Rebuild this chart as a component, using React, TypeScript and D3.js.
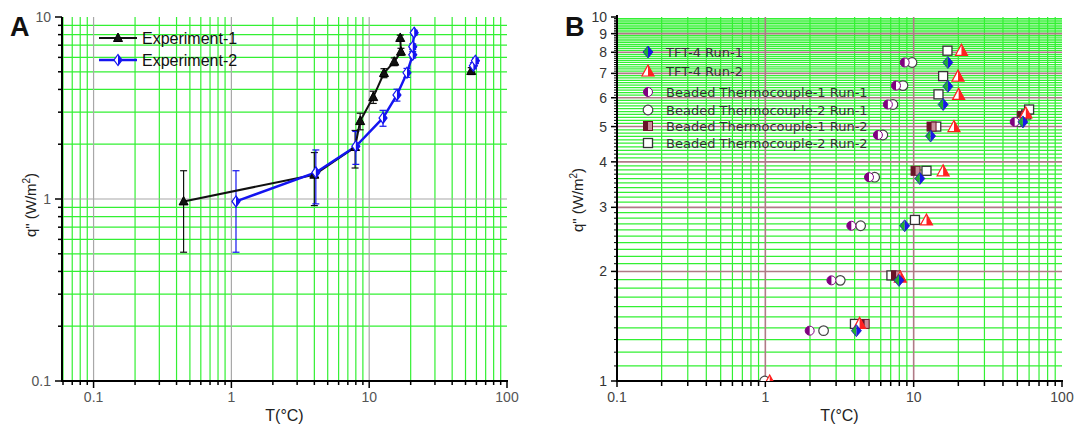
import React from "react";
import * as d3 from "d3";

// ---------- Panel A data ----------
const exp1T = [0.45, 4.0, 7.9, 8.6, 10.7, 12.8, 15.2, 17.0, 16.8];
const exp1Q = [0.97, 1.36, 1.93, 2.68, 3.63, 4.92, 5.68, 6.45, 7.67];
const exp1Err = [0.46, 0.44, 0.45, 0.28, 0.28, 0.28, 0.28, 0.28, 0.28];
const exp1FarT = [55.0];
const exp1FarQ = [5.05];
const exp1FarErr = [0.22];

const exp2T = [1.08, 4.1, 8.0, 12.6, 15.9, 18.8, 20.7, 20.7, 21.2];
const exp2Q = [0.97, 1.4, 1.95, 2.79, 3.73, 4.94, 6.2, 6.87, 8.2];
const exp2Err = [0.46, 0.46, 0.4, 0.28, 0.28, 0.28, 0.25, 0.25, 0.25];
const exp2FarT = [57.0, 59.0];
const exp2FarQ = [5.4, 5.75];
const exp2FarErr = [0.2, 0.2];

const ticksA_X = [0.1, 1, 10, 100];
const ticksA_Y = [0.1, 1, 10];
const labelsA_X = ["0.1", "1", "10", "100"];
const labelsA_Y = ["0.1", "1", "10"];

// ---------- Panel B data ----------
const tft1T = [4.11, 7.96, 8.7, 11.0, 13.0, 15.8, 17.0, 17.0, 54.5];
const tft1Q = [1.375, 1.89, 2.67, 3.6, 4.71, 5.75, 6.45, 7.5, 5.15];
const tft2T = [1.07, 4.32, 8.13, 12.2, 15.8, 18.7, 20.1, 19.9, 21.0, 57.0];
const tft2Q = [1.0, 1.44, 1.93, 2.77, 3.78, 5.0, 6.13, 6.88, 8.1, 5.45];
const bt1r1T = [1.99, 2.79, 3.8, 5.0, 5.74, 6.7, 7.6, 8.7, 48.0];
const bt1r1Q = [1.375, 1.89, 2.67, 3.63, 4.74, 5.75, 6.48, 7.5, 5.15];
const bt2r1T = [0.99, 2.47, 3.2, 4.39, 5.46, 6.2, 7.25, 8.47, 9.75, 51.5];
const bt2r1Q = [1.0, 1.375, 1.89, 2.67, 3.63, 4.74, 5.75, 6.48, 7.5, 5.15];
const bt1r2T = [4.67, 7.6, 10.3, 13.2, 53.5];
const bt1r2Q = [1.435, 1.95, 3.78, 5.0, 5.35];
const bt2r2T = [4.02, 7.08, 10.2, 12.2, 14.2, 14.7, 15.8, 16.9, 57.4, 60.0];
const bt2r2Q = [1.435, 1.95, 2.77, 3.78, 5.0, 6.13, 6.88, 8.08, 5.4, 5.57];

const legendB = [
  "TFT-4 Run-1",
  "TFT-4 Run-2",
  "Beaded Thermocouple-1 Run-1",
  "Beaded Thermocouple-2 Run-1",
  "Beaded Thermocouple-1 Run-2",
  "Beaded Thermocouple-2 Run-2",
];
const ticksB_X = [0.1, 1, 10, 100];
const labelsB_X = ["0.1", "1", "10", "100"];
const ticksB_Y = [1, 2, 3, 4, 5, 6, 7, 8, 9, 10];

const GREEN = "#33f033";
const GREY = "#a8a8a8";
const MAUVE = "#b07a86";
const FONT = "'Liberation Sans', Arial, sans-serif";

function minorLog(lo: number, hi: number): number[] {
  const out: number[] = [];
  for (let e = -3; e <= 3; e++) {
    for (let m = 1; m <= 9; m++) {
      const v = m * Math.pow(10, e);
      if (v >= lo * 0.9999 && v <= hi * 1.0001) out.push(+v.toPrecision(6));
    }
  }
  return out;
}

type MarkerKind = "tri" | "diamondHalf" | "diamondGB" | "triRed" | "circPurple" | "circOpen" | "sqDark" | "sqOpen";

function Marker({ kind, x, y }: { kind: MarkerKind; x: number; y: number }) {
  const t = `translate(${x},${y})`;
  if (kind === "tri") {
    return <path transform={t} d="M0,-5 L4.5,3.5 L-4.5,3.5 Z" fill="#111" stroke="#000" strokeWidth={1} />;
  }
  if (kind === "diamondHalf") {
    return (
      <g transform={t}>
        <path d="M0,-5.5 L4,0 L0,5.5 L-4,0 Z" fill="#fff" stroke="#1414f0" strokeWidth={1.2} />
        <path d="M0,-5.5 L4,0 L0,5.5 Z" fill="#1414f0" />
      </g>
    );
  }
  if (kind === "diamondGB") {
    return (
      <g transform={t}>
        <path d="M0,-6 L0,6 L-5,0 Z" fill="#20b030" />
        <path d="M0,-6 L5,0 L0,6 Z" fill="#1818e8" />
        <path d="M0,-6 L5,0 L0,6 L-5,0 Z" fill="none" stroke="#1818c0" strokeWidth={0.8} />
      </g>
    );
  }
  if (kind === "triRed") {
    return (
      <g transform={t}>
        <path d="M0,-6 L6,5 L-6,5 Z" fill="#fff" stroke="#ff2020" strokeWidth={1.2} />
        <path d="M0,-6 L6,5 L0,5 Z" fill="#ff2020" />
      </g>
    );
  }
  if (kind === "circPurple") {
    return (
      <g transform={t}>
        <circle r={4.5} fill="#fff" stroke="#800080" strokeWidth={1} />
        <path d="M0,-4.5 A4.5,4.5 0 0 0 0,4.5 Z" fill="#800080" />
      </g>
    );
  }
  if (kind === "circOpen") {
    return <circle transform={t} r={4.8} fill="#fff" stroke="#444" strokeWidth={1.2} />;
  }
  if (kind === "sqDark") {
    return (
      <g transform={t}>
        <rect x={-4.5} y={-4.5} width={9} height={9} fill="#c8909c" stroke="#6a1428" strokeWidth={1} />
        <rect x={-4.5} y={-4.5} width={4.5} height={9} fill="#6a1428" />
      </g>
    );
  }
  return <rect transform={t} x={-4.5} y={-4.5} width={9} height={9} fill="#fff" stroke="#333" strokeWidth={1.3} />;
}

function PanelA() {
  const L = 62, R = 507, T = 17, B = 381;
  const x = d3.scaleLog().domain([0.059, 100]).range([L, R]);
  const y = d3.scaleLog().domain([0.1, 10]).range([B, T]);
  const xMinor = minorLog(0.059, 100).filter((v) => !ticksA_X.includes(v));
  const yMinor = minorLog(0.1, 10).filter((v) => !ticksA_Y.includes(v));
  const line = d3.line<[number, number]>().x((d) => x(d[0])).y((d) => y(d[1]));
  const s1 = exp1T.map((t, i) => [t, exp1Q[i]] as [number, number]);
  const s2 = exp2T.map((t, i) => [t, exp2Q[i]] as [number, number]);
  const errBar = (t: number, q: number, e: number, col: string, key: string) => (
    <g key={key} stroke={col} strokeWidth={1.2}>
      <line x1={x(t)} x2={x(t)} y1={y(q + e)} y2={y(Math.max(q - e, 0.11))} />
      <line x1={x(t) - 3.5} x2={x(t) + 3.5} y1={y(q + e)} y2={y(q + e)} />
      <line x1={x(t) - 3.5} x2={x(t) + 3.5} y1={y(Math.max(q - e, 0.11))} y2={y(Math.max(q - e, 0.11))} />
    </g>
  );
  return (
    <g>
      {xMinor.map((v) => (
        <line key={"gx" + v} x1={x(v)} x2={x(v)} y1={T} y2={B} stroke={GREEN} strokeWidth={1.2} />
      ))}
      {yMinor.map((v) => (
        <line key={"gy" + v} x1={L} x2={R} y1={y(v)} y2={y(v)} stroke={GREEN} strokeWidth={1.2} />
      ))}
      {[0.1, 1, 10].map((v) => (
        <line key={"Gx" + v} x1={x(v)} x2={x(v)} y1={T} y2={B} stroke={GREY} strokeWidth={1.2} />
      ))}
      <line x1={L} x2={R} y1={y(1)} y2={y(1)} stroke={GREY} strokeWidth={1.2} />

      {/* axes */}
      <line x1={L} x2={R + 1} y1={B} y2={B} stroke="#000" strokeWidth={2} />
      <line x1={L} x2={L} y1={T} y2={B + 1} stroke="#000" strokeWidth={2} />
      {xMinor.map((v) => (
        <line key={"tx" + v} x1={x(v)} x2={x(v)} y1={B} y2={B + 4} stroke="#000" strokeWidth={1.5} />
      ))}
      {ticksA_X.map((v) => (
        <line key={"Tx" + v} x1={x(v)} x2={x(v)} y1={B} y2={B + 7} stroke="#000" strokeWidth={1.5} />
      ))}
      {yMinor.map((v) => (
        <line key={"ty" + v} x1={L - 4} x2={L} y1={y(v)} y2={y(v)} stroke="#000" strokeWidth={1.5} />
      ))}
      {ticksA_Y.map((v) => (
        <line key={"Ty" + v} x1={L - 7} x2={L} y1={y(v)} y2={y(v)} stroke="#000" strokeWidth={1.5} />
      ))}
      {ticksA_X.map((v, i) => (
        <text key={"lx" + v} x={x(v)} y={402} textAnchor="middle" fontSize={14} fill="#555" fontFamily={FONT}>
          {labelsA_X[i]}
        </text>
      ))}
      {ticksA_Y.map((v, i) => (
        <text key={"ly" + v} x={51} y={y(v) + 5} textAnchor="end" fontSize={14} fill="#555" fontFamily={FONT}>
          {labelsA_Y[i]}
        </text>
      ))}
      <text x={(L + R) / 2} y={421} textAnchor="middle" fontSize={16} fill="#222" fontFamily={FONT}>
        T(°C)
      </text>
      <text transform={`translate(36,${205}) rotate(-90)`} textAnchor="middle" fontSize={15} fill="#222" fontFamily={FONT}>
        q" (W/m<tspan dy={-6} fontSize={10}>2</tspan><tspan dy={6}>)</tspan>
      </text>
      <text x={10} y={36} fontSize={27} fontWeight="bold" fill="#111" fontFamily={FONT}>A</text>

      {/* error bars */}
      {exp1T.map((t, i) => errBar(t, exp1Q[i], exp1Err[i], "#111", "e1" + i))}
      {exp1FarT.map((t, i) => errBar(t, exp1FarQ[i], exp1FarErr[i], "#111", "e1f" + i))}
      {exp2T.map((t, i) => errBar(t, exp2Q[i], exp2Err[i], "#1414f0", "e2" + i))}
      {exp2FarT.map((t, i) => errBar(t, exp2FarQ[i], exp2FarErr[i], "#1414f0", "e2f" + i))}

      <path d={line(s1) || ""} fill="none" stroke="#111" strokeWidth={2} />
      <path d={line(s2) || ""} fill="none" stroke="#1414f0" strokeWidth={2.4} />
      {s1.map((d, i) => <Marker key={"m1" + i} kind="tri" x={x(d[0])} y={y(d[1])} />)}
      {exp1FarT.map((t, i) => <Marker key={"m1f" + i} kind="tri" x={x(t)} y={y(exp1FarQ[i])} />)}
      {s2.map((d, i) => <Marker key={"m2" + i} kind="diamondHalf" x={x(d[0])} y={y(d[1])} />)}
      {exp2FarT.map((t, i) => <Marker key={"m2f" + i} kind="diamondHalf" x={x(t)} y={y(exp2FarQ[i])} />)}

      {/* legend */}
      <line x1={99} x2={137} y1={38} y2={38} stroke="#111" strokeWidth={2} />
      <Marker kind="tri" x={118} y={38} />
      <text x={142} y={44} fontSize={16} fill="#111" fontFamily={FONT}>Experiment-1</text>
      <line x1={99} x2={137} y1={60} y2={60} stroke="#1414f0" strokeWidth={2.4} />
      <Marker kind="diamondHalf" x={118} y={60} />
      <text x={142} y={66} fontSize={16} fill="#111" fontFamily={FONT}>Experiment-2</text>
    </g>
  );
}

function PanelB() {
  const L = 617, R = 1062, T = 17, B = 381;
  const x = d3.scaleLog().domain([0.1, 100]).range([L, R]);
  const y = d3.scaleLog().domain([1, 10]).range([B, T]);
  const xMinor = minorLog(0.1, 100).filter((v) => !ticksB_X.includes(v));
  const yFine: number[] = [];
  for (let k = 11; k < 100; k++) if (k % 10 !== 0) yFine.push(k / 10);
  const series: { t: number[]; q: number[]; kind: MarkerKind }[] = [
    { t: bt2r2T, q: bt2r2Q, kind: "sqOpen" },
    { t: bt1r2T, q: bt1r2Q, kind: "sqDark" },
    { t: bt2r1T, q: bt2r1Q, kind: "circOpen" },
    { t: bt1r1T, q: bt1r1Q, kind: "circPurple" },
    { t: tft2T, q: tft2Q, kind: "triRed" },
    { t: tft1T, q: tft1Q, kind: "diamondGB" },
  ];
  const legendKinds: MarkerKind[] = ["diamondGB", "triRed", "circPurple", "circOpen", "sqDark", "sqOpen"];
  const legendY = [52, 71, 92, 110, 126, 143];
  return (
    <g>
      <defs>
        <clipPath id="clipB">
          <rect x={L} y={T} width={R - L} height={B - T} />
        </clipPath>
      </defs>
      {yFine.map((v) => (
        <line key={"gy" + v} x1={L} x2={R} y1={y(v)} y2={y(v)} stroke={GREEN} strokeWidth={1.25} />
      ))}
      {xMinor.map((v) => (
        <line key={"gx" + v} x1={x(v)} x2={x(v)} y1={T} y2={B} stroke={GREEN} strokeWidth={1.2} />
      ))}
      {[2, 3, 4, 5, 6, 7, 8, 9].map((v) => (
        <line key={"My" + v} x1={L} x2={R} y1={y(v)} y2={y(v)} stroke={MAUVE} strokeWidth={1.6} />
      ))}
      {[1, 10].map((v) => (
        <line key={"Mx" + v} x1={x(v)} x2={x(v)} y1={T} y2={B} stroke={MAUVE} strokeWidth={1.6} />
      ))}

      {/* axes */}
      <line x1={L} x2={R + 1} y1={B} y2={B} stroke="#000" strokeWidth={2} />
      <line x1={L} x2={L} y1={T - 2} y2={B + 1} stroke="#000" strokeWidth={2} />
      {xMinor.map((v) => (
        <line key={"tx" + v} x1={x(v)} x2={x(v)} y1={B} y2={B + 5} stroke="#000" strokeWidth={1.5} />
      ))}
      {ticksB_X.map((v) => (
        <line key={"Tx" + v} x1={x(v)} x2={x(v)} y1={B} y2={B + 6} stroke="#000" strokeWidth={1.5} />
      ))}
      {yFine.map((v) => (
        <line key={"ty" + v} x1={L - 3} x2={L} y1={y(v)} y2={y(v)} stroke="#000" strokeWidth={1} />
      ))}
      {ticksB_Y.map((v) => (
        <line key={"Ty" + v} x1={L - 6} x2={L} y1={y(v)} y2={y(v)} stroke="#000" strokeWidth={1.5} />
      ))}
      {ticksB_X.map((v, i) => (
        <text key={"lx" + v} x={x(v)} y={402} textAnchor="middle" fontSize={14} fill="#444" fontFamily={FONT}>
          {labelsB_X[i]}
        </text>
      ))}
      {ticksB_Y.map((v) => (
        <text key={"ly" + v} x={607} y={y(v) + 5} textAnchor="end" fontSize={14} fill="#333" fontFamily={FONT}>
          {String(v)}
        </text>
      ))}
      <text x={(L + R) / 2} y={421} textAnchor="middle" fontSize={16} fill="#222" fontFamily={FONT}>
        T(°C)
      </text>
      <text transform={`translate(583,${200}) rotate(-90)`} textAnchor="middle" fontSize={15} fill="#222" fontFamily={FONT}>
        q" (W/m<tspan dy={-6} fontSize={10}>2</tspan><tspan dy={6}>)</tspan>
      </text>
      <text x={565} y={36} fontSize={27} fontWeight="bold" fill="#111" fontFamily={FONT}>B</text>

      <g clipPath="url(#clipB)">
        {series.map((s, si) =>
          s.t.map((t, i) => <Marker key={"s" + si + "_" + i} kind={s.kind} x={x(t)} y={y(s.q[i])} />)
        )}
      </g>

      {legendB.map((name, i) => (
        <g key={"lg" + i}>
          <Marker kind={legendKinds[i]} x={648} y={legendY[i]} />
          <text x={666} y={legendY[i] + 5} fontSize={13} fill="#333" fontFamily="'DejaVu Sans', sans-serif">
            {name}
          </text>
        </g>
      ))}
    </g>
  );
}

export default function App() {
  return (
    <svg width={1075} height={425} style={{ position: "absolute", left: 0, top: 0, background: "#fff" }}>
      <rect width={1075} height={425} fill="#fff" />
      <PanelA />
      <PanelB />
    </svg>
  );
}
